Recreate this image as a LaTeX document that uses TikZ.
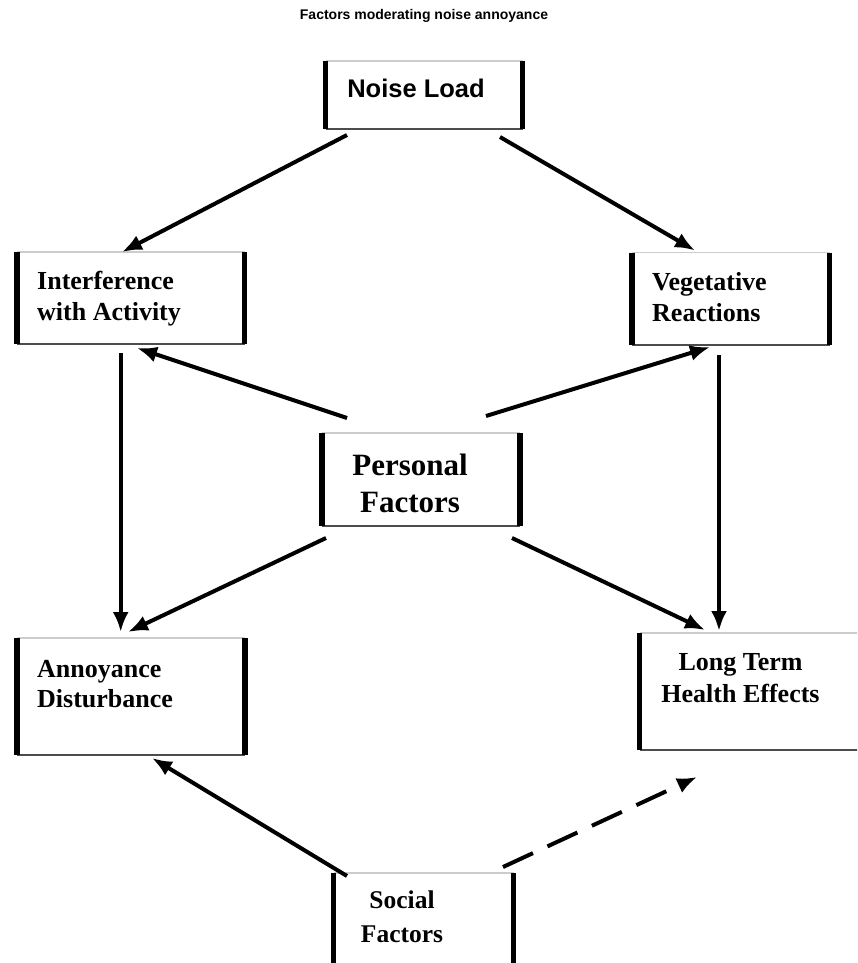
\documentclass[tikz,border=0pt]{standalone}
\usepackage{fontspec}
\setmainfont{Liberation Serif}
\newfontfamily\arialfont{Liberation Sans}
\usetikzlibrary{arrows.meta}
\tikzset{kasten/.style={inner sep=0pt,outer sep=0pt},
  oben/.style={draw=black!20,line width=1.5pt},
  unten/.style={draw=black!70,line width=2pt},
  seite/.style={draw=black,line width=5.5pt},
  pfeil/.style={->,line width=4pt},
  strich/.style={pfeil,dash pattern=on 33pt off 16pt},
  roman/.style={font=\fontsize{26}{31}\selectfont\bfseries,inner sep=0pt,align=left},
  >={Latex[length=20pt,width=16pt]}}
\newcommand{\kasten}[4]{%
  \node[kasten,minimum width=#3,minimum height=#4] (#1) at (#2) {};
  \draw[oben] (#1.north west) -- (#1.north east);
  \draw[unten] (#1.south west) -- (#1.south east);
  \draw[seite] (#1.north west) -- (#1.south west);
  \draw[seite] (#1.north east) -- (#1.south east);}
\def\pf#1#2{\draw[pfeil] (#1) -- (#2);}

\begin{document}
\begin{tikzpicture}[x=1pt,y=-1pt]
    \clip (0,0) rectangle (857,963);

    \node[font=\arialfont\bfseries\fontsize{14}{16}\selectfont,anchor=base] (titel) at (424,19.5) {Factors moderating noise annoyance};

    \kasten{noise}{424,95}{197pt}{68pt}
    \kasten{interf}{130.75,298}{227.5pt}{92pt}
    \kasten{veg}{730.75,298.75}{197.5pt}{92.5pt}
    \kasten{pers}{421,479.5}{198pt}{93pt}
    \kasten{annoy}{131,696.5}{228pt}{117pt}
    \kasten{long}{754.75,691.5}{230.5pt}{117pt}
    \kasten{social}{423.5,929}{180pt}{112pt}

    % Texte (base = letzte Zeile)
    \node[font=\arialfont\bfseries\fontsize{25.5}{30}\selectfont,anchor=base] (noise-t) at (416,98) {Noise Load};
    \node[roman,anchor=base west] (interf-t) at (37,320) {Interference\\with Activity};
    \node[roman,anchor=base west] (veg-t) at (652,321) {Vegetative\\Reactions};
    \node[roman,font=\fontsize{31}{37}\selectfont\bfseries,align=center,anchor=base] (pers-t) at (410,512) {Personal\\Factors};
    \node[roman,font=\fontsize{26}{30}\selectfont\bfseries,anchor=base west] (annoy-t) at (37,707) {Annoyance\\Disturbance};
    \node[roman,font=\fontsize{26}{32}\selectfont\bfseries,align=center,anchor=base] (long-t) at (740.5,702) {Long Term\\Health Effects};
    \node[roman,font=\fontsize{25.5}{34}\selectfont\bfseries,align=center,anchor=base] (social-t) at (402,942) {Social\\Factors};

    % von oben nach unten
    \pf{[shift={(21.5,6)}]noise.south west}{[shift={(105,0)}]interf.north west}
    \pf{[shift={(-22.5,8)}]noise.south east}{[shift={(63,-2)}]veg.north west}
    \pf{[shift={(103.7,9)}]interf.south west}{[shift={(103.7,-6)}]annoy.north west}
    \pf{[shift={(87,10)}]veg.south west}{[shift={(79.5,-2)}]long.north west}

    % Personal Factors
    \pf{[shift={(25,-15)}]pers.north west}{[shift={(120,4)}]interf.south west}
    \pf{[shift={(-34,-17)}]pers.north east}{[shift={(78,2)}]veg.south west}
    \pf{[shift={(4,12)}]pers.south west}{[shift={(111,-6)}]annoy.north west}
    \pf{[shift={(-8,12)}]pers.south east}{[shift={(65.5,-3)}]long.north west}

    % Social Factors
    \pf{[shift={(13.5,3)}]social.north west}{[shift={(135,3)}]annoy.south west}
    \draw[strich] ([shift={(-10.5,-6)}]social.north east) -- ([shift={(57.5,27)}]long.south west);

\end{tikzpicture}
\end{document}
